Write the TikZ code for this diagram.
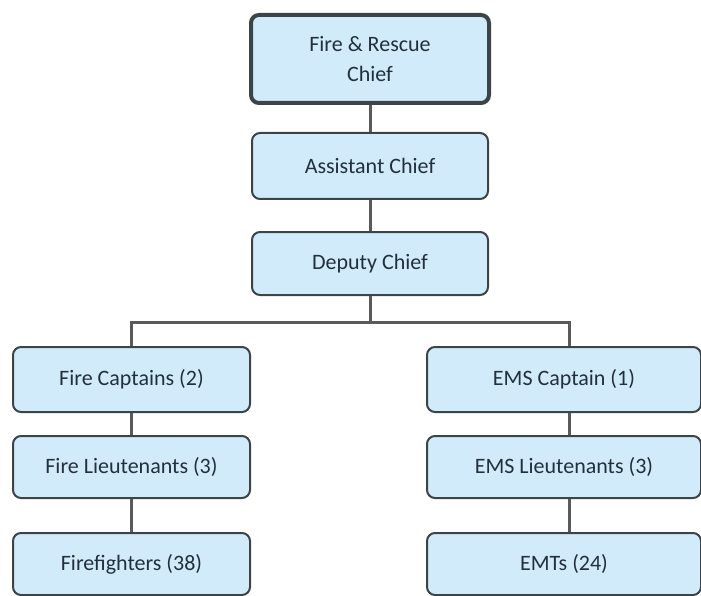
\documentclass[tikz,border=0pt]{standalone}
\usepackage{fontspec}
\setmainfont{Carlito}
\definecolor{boxfill}{HTML}{D2EBFA}
\definecolor{boxdraw}{HTML}{3C4448}
\definecolor{linecol}{HTML}{5A5A5A}
\definecolor{txtcol}{HTML}{22303C}
\begin{document}
\begin{tikzpicture}[x=1pt,y=-1pt,
  orgbox/.style={draw=boxdraw,fill=boxfill,line width=2pt,rounded corners=8pt,
    text=txtcol,font=\fontsize{22}{26}\selectfont,align=center,inner sep=0pt},
  conn/.style={draw=linecol,line width=3pt}]
\useasboundingbox (0,0) rectangle (701,596);
\node[orgbox,line width=4pt,minimum width=238pt,minimum height=88pt] (chief) at (370,59) {Fire \& Rescue\\[4pt]Chief};
\node[orgbox,minimum width=236pt,minimum height=66pt] (asst) at (370,166) {Assistant Chief};
\node[orgbox,minimum width=236pt,minimum height=63pt] (dep) at (370,263.5) {Deputy Chief};
\node[orgbox,minimum width=237pt,minimum height=65pt] (fc) at (131.5,379.5) {Fire Captains (2)};
\node[orgbox,minimum width=237pt,minimum height=62pt] (fl) at (131.5,467) {Fire Lieutenants (3)};
\node[orgbox,minimum width=237pt,minimum height=62pt] (ff) at (131.5,564) {Firefighters (38)};
\node[orgbox,minimum width=274pt,minimum height=65pt] (ec) at (564,379.5) {EMS Captain (1)};
\node[orgbox,minimum width=274pt,minimum height=62pt] (el) at (564,467) {EMS Lieutenants (3)};
\node[orgbox,minimum width=274pt,minimum height=62pt] (emt) at (564,564) {EMTs (24)};
\coordinate (split) at (370,322);
\coordinate (rx) at (569,0);
\draw[conn] (chief.south) -- (asst.north);
\draw[conn] (asst.south) -- (dep.north);
\draw[conn] (dep.south) -- (split);
\draw[conn] (fc.north) |- (split) -| (ec.north -| rx);
\draw[conn] (fc.south) -- (fl.north);
\draw[conn] (fl.south) -- (ff.north);
\draw[conn] (ec.south -| rx) -- (el.north -| rx);
\draw[conn] (el.south -| rx) -- (emt.north -| rx);
\end{tikzpicture}
\end{document}
